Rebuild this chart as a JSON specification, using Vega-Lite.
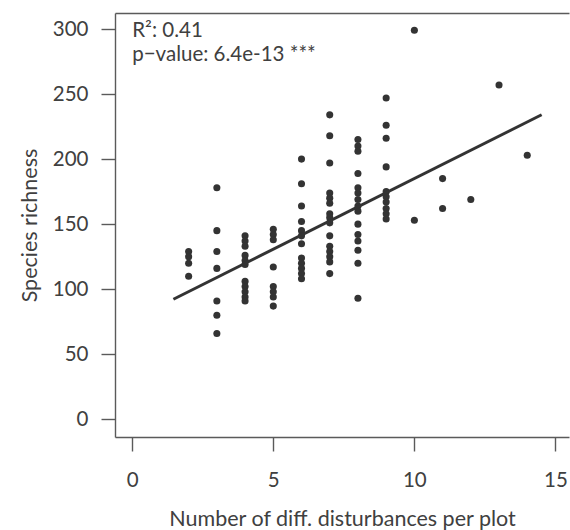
{
  "$schema": "https://vega.github.io/schema/vega-lite/v6.json",
  "width": 454,
  "height": 424,
  "autosize": {"type": "none"},
  "padding": {"left": 115, "top": 13, "right": 1, "bottom": 93},
  "background": "white",
  "config": {
    "font": "Lato",
    "view": {"stroke": null},
    "axis": {
      "grid": false,
      "labelFont": "Lato",
      "titleFont": "Lato",
      "labelFontSize": 20.5,
      "titleFontSize": 21.5,
      "labelColor": "#404040",
      "titleColor": "#404040",
      "titleFontWeight": "normal",
      "domainColor": "#5a5a5a",
      "tickColor": "#5a5a5a",
      "domainWidth": 1.4,
      "tickWidth": 1.4,
      "tickSize": 14
    }
  },
  "datasets": {
    "points": [
      {"x": 2, "y": 129}, {"x": 2, "y": 125}, {"x": 2, "y": 120}, {"x": 2, "y": 110},
      {"x": 3, "y": 178}, {"x": 3, "y": 145}, {"x": 3, "y": 129}, {"x": 3, "y": 116}, {"x": 3, "y": 91}, {"x": 3, "y": 80}, {"x": 3, "y": 66},
      {"x": 4, "y": 141}, {"x": 4, "y": 137}, {"x": 4, "y": 133}, {"x": 4, "y": 126}, {"x": 4, "y": 122}, {"x": 4, "y": 119}, {"x": 4, "y": 106}, {"x": 4, "y": 102}, {"x": 4, "y": 98}, {"x": 4, "y": 94}, {"x": 4, "y": 91},
      {"x": 5, "y": 146}, {"x": 5, "y": 142}, {"x": 5, "y": 138}, {"x": 5, "y": 117}, {"x": 5, "y": 102}, {"x": 5, "y": 98}, {"x": 5, "y": 94}, {"x": 5, "y": 87},
      {"x": 6, "y": 200}, {"x": 6, "y": 181}, {"x": 6, "y": 164}, {"x": 6, "y": 152}, {"x": 6, "y": 145}, {"x": 6, "y": 141}, {"x": 6, "y": 135}, {"x": 6, "y": 124}, {"x": 6, "y": 120}, {"x": 6, "y": 116}, {"x": 6, "y": 112}, {"x": 6, "y": 108},
      {"x": 7, "y": 234}, {"x": 7, "y": 218}, {"x": 7, "y": 197}, {"x": 7, "y": 174}, {"x": 7, "y": 170}, {"x": 7, "y": 166}, {"x": 7, "y": 158}, {"x": 7, "y": 155}, {"x": 7, "y": 151}, {"x": 7, "y": 141}, {"x": 7, "y": 133}, {"x": 7, "y": 129}, {"x": 7, "y": 125}, {"x": 7, "y": 121}, {"x": 7, "y": 112},
      {"x": 8, "y": 215}, {"x": 8, "y": 210}, {"x": 8, "y": 206}, {"x": 8, "y": 189}, {"x": 8, "y": 178}, {"x": 8, "y": 174}, {"x": 8, "y": 169}, {"x": 8, "y": 164}, {"x": 8, "y": 160}, {"x": 8, "y": 150}, {"x": 8, "y": 142}, {"x": 8, "y": 137}, {"x": 8, "y": 130}, {"x": 8, "y": 120}, {"x": 8, "y": 93},
      {"x": 9, "y": 247}, {"x": 9, "y": 226}, {"x": 9, "y": 216}, {"x": 9, "y": 194}, {"x": 9, "y": 175}, {"x": 9, "y": 171}, {"x": 9, "y": 167}, {"x": 9, "y": 162}, {"x": 9, "y": 158}, {"x": 9, "y": 154},
      {"x": 10, "y": 299}, {"x": 10, "y": 153},
      {"x": 11, "y": 185}, {"x": 11, "y": 162},
      {"x": 12, "y": 169},
      {"x": 13, "y": 257},
      {"x": 14, "y": 203}
    ],
    "fit": [
      {"x": 1.46, "y": 92.3},
      {"x": 14.51, "y": 234.1}
    ],
    "notes": [
      {"x": 0, "y": 293.8, "label": "R²: 0.41"},
      {"x": 0, "y": 275.6, "label": "p−value: 6.4e-13 ***"}
    ]
  },
  "resolve": {"axis": {"x": "independent"}},
  "layer": [
    {
      "data": {"name": "points"},
      "mark": {"type": "circle", "size": 50, "opacity": 1, "color": "#333333"},
      "encoding": {
        "x": {
          "field": "x", "type": "quantitative",
          "scale": {"domain": [-0.61, 15.48], "nice": false, "zero": false},
          "axis": {"orient": "bottom", "values": [0, 5, 10, 15], "labelPadding": 19, "title": "Number of diff. disturbances per plot", "titlePadding": 18, "labelFlush": false}
        },
        "y": {
          "field": "y", "type": "quantitative",
          "scale": {"domain": [-13.6, 312.3], "nice": false, "zero": false},
          "axis": {"values": [0, 50, 100, 150, 200, 250, 300], "labelPadding": 13, "title": "Species richness", "titlePadding": 11, "labelFlush": false}
        }
      }
    },
    {
      "data": {"name": "fit"},
      "mark": {"type": "line", "color": "#333333", "strokeWidth": 3},
      "encoding": {
        "x": {
          "field": "x", "type": "quantitative",
          "axis": {"orient": "top", "labels": false, "ticks": false, "domain": true, "title": null}
        },
        "y": {"field": "y", "type": "quantitative", "axis": {"values": [0, 50, 100, 150, 200, 250, 300], "labelPadding": 13, "title": "Species richness", "titlePadding": 11, "labelFlush": false}}
      }
    },
    {
      "data": {"name": "notes"},
      "mark": {"type": "text", "align": "left", "baseline": "alphabetic", "fontSize": 20.5, "color": "#404040", "font": "Lato"},
      "encoding": {
        "x": {"field": "x", "type": "quantitative", "axis": null},
        "y": {"field": "y", "type": "quantitative", "axis": {"values": [0, 50, 100, 150, 200, 250, 300], "labelPadding": 13, "title": "Species richness", "titlePadding": 11, "labelFlush": false}},
        "text": {"field": "label"}
      }
    }
  ]
}
